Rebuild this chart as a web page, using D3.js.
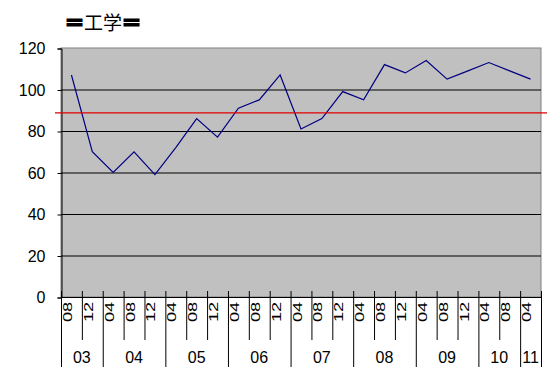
<!DOCTYPE html>
<html>
<head>
<meta charset="utf-8">
<script src="https://cdn.jsdelivr.net/npm/d3@7"></script>
<style>
  body { margin: 0; background: #fff; }
  text { font-family: "Liberation Sans", Arial, sans-serif; }
</style>
</head>
<body>
<svg id="chart" width="555" height="384"></svg>
<script>
// categories: year / month of each observation
const years = ['03','03','04','04','04','05','05','05','06','06','06','07','07','07','08','08','08','09','09','09','10','10','11'];
const months = ['08','12','04','08','12','04','08','12','04','08','12','04','08','12','04','08','12','04','08','12','04','08','04'];
// series values
const values = [107, 70, 60, 70, 59, 72, 86, 77, 91, 95, 107, 81, 86, 99, 95, 112, 108, 114, 105, 109, 113, 109, 105];
const yTicks = [0, 20, 40, 60, 80, 100, 120];
const refValue = 88.7;
const title = '＝工学＝';

const svg = d3.select('#chart');
const plotL = 61, plotR = 541, plotT = 48, plotB = 297;

const idx = d3.range(values.length);
const xScale = d3.scaleBand().domain(idx).range([plotL, plotR]);
const yScale = d3.scaleLinear().domain([0, 120]).range([plotB, plotT]);

// plot background
svg.append('rect')
    .attr('x', plotL).attr('y', plotT)
    .attr('width', plotR - plotL).attr('height', plotB - plotT)
    .attr('fill', '#c0c0c0')
    .attr('stroke', '#808080');

// grid lines
svg.selectAll('line.grid')
    .data(yTicks.filter(d => d > 0 && d < 120))
    .join('line')
    .attr('class', 'grid')
    .attr('x1', plotL).attr('x2', plotR)
    .attr('y1', d => yScale(d) + 0.5).attr('y2', d => yScale(d) + 0.5)
    .attr('stroke', '#000');

// y axis
const yAxis = svg.append('g')
    .attr('transform', `translate(${plotL + 0.5},0.5)`)
    .call(d3.axisLeft(yScale).tickValues(yTicks).tickSize(4).tickPadding(12));
yAxis.select('.domain').attr('stroke', '#000');
yAxis.selectAll('text')
    .style('font-size', '16px')
    .attr('fill', '#000');

// x axis line
svg.append('line')
    .attr('x1', plotL).attr('x2', plotR + 1)
    .attr('y1', plotB + 0.5).attr('y2', plotB + 0.5)
    .attr('stroke', '#000');

// category dividers (ticks), longer at year boundaries
const bounds = d3.range(values.length + 1);
svg.selectAll('line.div')
    .data(bounds)
    .join('line')
    .attr('class', 'div')
    .attr('x1', i => (i < values.length ? xScale(i) : plotR) + 0.5)
    .attr('x2', i => (i < values.length ? xScale(i) : plotR) + 0.5)
    .attr('y1', plotB - 6)
    .attr('y2', i => (i === 0 || i === values.length || years[i] !== years[i - 1]) ? 367 : 340)
    .attr('stroke', '#000');

// month labels, rotated
svg.selectAll('text.month')
    .data(idx)
    .join('text')
    .attr('class', 'month')
    .attr('transform', i => `translate(${xScale(i) + 11},${322}) rotate(-90) scale(1.4,1)`)
    .attr('font-size', 13)
    .attr('fill', '#000')
    .text(i => months[i]);

// year labels
const yearGroups = d3.groups(idx, i => years[i]);
svg.selectAll('text.year')
    .data(yearGroups)
    .join('text')
    .attr('class', 'year')
    .attr('x', d => {
        const a = xScale(d[1][0]);
        const b = xScale(d[1][d[1].length - 1]) + xScale.bandwidth();
        return (a + b) / 2;
    })
    .attr('y', 363)
    .attr('text-anchor', 'middle')
    .attr('font-size', 16)
    .attr('fill', '#000')
    .text(d => d[0]);

// series line
const line = d3.line()
    .x(i => xScale(i) + xScale.bandwidth() / 2)
    .y(i => yScale(values[i]));
svg.append('path')
    .datum(idx)
    .attr('d', line)
    .attr('fill', 'none')
    .attr('stroke', '#000080')
    .attr('stroke-width', 1.2);

// reference line
svg.append('line')
    .attr('x1', 55).attr('x2', 547)
    .attr('y1', yScale(refValue)).attr('y2', yScale(refValue))
    .attr('stroke', '#e00000')
    .attr('stroke-width', 1.2);

// title, with heavy equals signs
const titleText = svg.append('text')
    .attr('x', 103).attr('y', 30)
    .attr('text-anchor', 'middle')
    .style('font-family', '"Noto Sans CJK JP", sans-serif')
    .attr('font-size', 19)
    .attr('fill', '#000');
titleText.selectAll('tspan')
    .data(Array.from(title))
    .join('tspan')
    .attr('stroke', c => c === '＝' ? '#000' : 'none')
    .attr('stroke-width', 2.2)
    .text(c => c);
</script>
</body>
</html>
